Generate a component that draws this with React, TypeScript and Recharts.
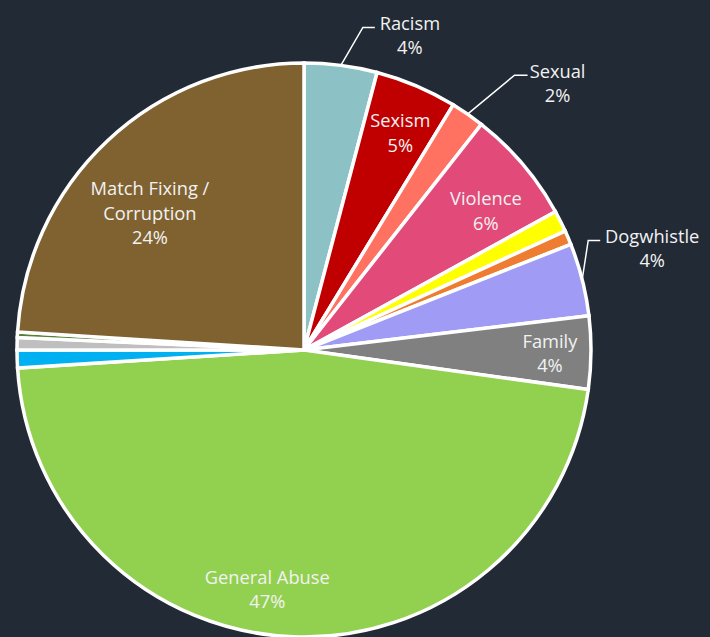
import React from 'react';
import { PieChart, Pie, Cell } from 'recharts';

const categories = [
  'Racism', 'Sexism', 'Sexual', 'Violence', 'Other A', 'Other B', 'Dogwhistle', 'Family',
  'General Abuse', 'Other C', 'Other D', 'Other E', 'Match Fixing / Corruption',
];
const values = [4.1, 4.6, 1.9, 6.4, 1.2, 0.8, 4.1, 4.1, 46.8, 1.0, 0.7, 0.3, 24.0];
const colors = [
  '#8CC1C5', '#C00000', '#FF7262', '#E24A7A', '#FFFF00', '#EE7D31', '#A09CF6', '#808080',
  '#92D050', '#00B0F0', '#BFBFBF', '#548235', '#7F6230',
];

const data = categories.map((name, i) => ({ name, value: values[i] }));

const RAD = Math.PI / 180;
const TEXT = '#F2F2F2';
const FONT = '"Open Sans", "Noto Sans", sans-serif';
const FS = 18.3;

type LabelCfg =
  | { kind: 'in'; lines: string[]; frac: number; shift: number }
  | { kind: 'out'; lines: string[]; ex: number; ey: number; hl: number; tx: number };

const labelCfg: Record<string, LabelCfg> = {
  Racism: { kind: 'out', lines: ['Racism'], ex: 22, ey: -38, hl: 12, tx: 35 },
  Sexism: { kind: 'in', lines: ['Sexism'], frac: 0.83, shift: 0.8 },
  Sexual: { kind: 'out', lines: ['Sexual'], ex: 47, ey: -39, hl: 13, tx: 30 },
  Violence: { kind: 'in', lines: ['Violence'], frac: 0.8, shift: 2.7 },
  Dogwhistle: { kind: 'out', lines: ['Dogwhistle'], ex: 6, ey: -39, hl: 12, tx: 52 },
  Family: { kind: 'in', lines: ['Family'], frac: 0.857, shift: 0 },
  'General Abuse': { kind: 'in', lines: ['General Abuse'], frac: 0.84, shift: 6.6 },
  'Match Fixing / Corruption': { kind: 'in', lines: ['Match Fixing /', 'Corruption'], frac: 0.72, shift: -5 },
};

const renderLabel = (props: any) => {
  const { cx, cy, midAngle, outerRadius, percent, name } = props;
  const cfg = labelCfg[name];
  if (!cfg) return null;
  const pct = `${Math.round(percent * 100)}%`;
  const lines = [...cfg.lines, pct];
  if (cfg.kind === 'in') {
    const ang = midAngle - cfg.shift;
    const r = outerRadius * cfg.frac;
    const x = cx + r * Math.cos(-ang * RAD);
    const y = cy + r * Math.sin(-ang * RAD);
    const lh = 24.5;
    const y0 = y - ((lines.length - 1) * lh) / 2;
    return (
      <g>
        {lines.map((t, i) => (
          <text key={i} x={x} y={y0 + i * lh} fill={TEXT} fontSize={FS} fontFamily={FONT}
            textAnchor="middle" dominantBaseline="central">{t}</text>
        ))}
      </g>
    );
  }
  const sx = cx + outerRadius * Math.cos(-midAngle * RAD);
  const sy = cy + outerRadius * Math.sin(-midAngle * RAD);
  const mx = sx + cfg.ex;
  const my = sy + cfg.ey;
  const endX = mx + cfg.hl;
  const tx = endX + cfg.tx;
  return (
    <g>
      <polyline points={`${sx},${sy} ${mx},${my} ${endX},${my}`} fill="none" stroke="#FFFFFF" strokeWidth={1.5} />
      <text x={tx} y={my - 5} fill={TEXT} fontSize={FS} fontFamily={FONT} textAnchor="middle" dominantBaseline="central">{lines[0]}</text>
      <text x={tx} y={my + 19} fill={TEXT} fontSize={FS} fontFamily={FONT} textAnchor="middle" dominantBaseline="central">{lines[1]}</text>
    </g>
  );
};

export default function App() {
  return (
    <div style={{ position: 'fixed', left: 0, top: 0, width: 710, height: 637, background: '#222A35', overflow: 'hidden' }}>
      <PieChart width={710} height={637} margin={{ top: 0, right: 0, bottom: 0, left: 0 }}>
        <Pie
          data={data}
          dataKey="value"
          nameKey="name"
          cx={304}
          cy={350}
          outerRadius={287}
          startAngle={90}
          endAngle={-270}
          stroke="#FFFFFF"
          strokeWidth={3.5}
          label={renderLabel}
          labelLine={false}
          isAnimationActive={false}
        >
          {data.map((d, i) => (
            <Cell key={d.name} fill={colors[i]} />
          ))}
        </Pie>
      </PieChart>
    </div>
  );
}
